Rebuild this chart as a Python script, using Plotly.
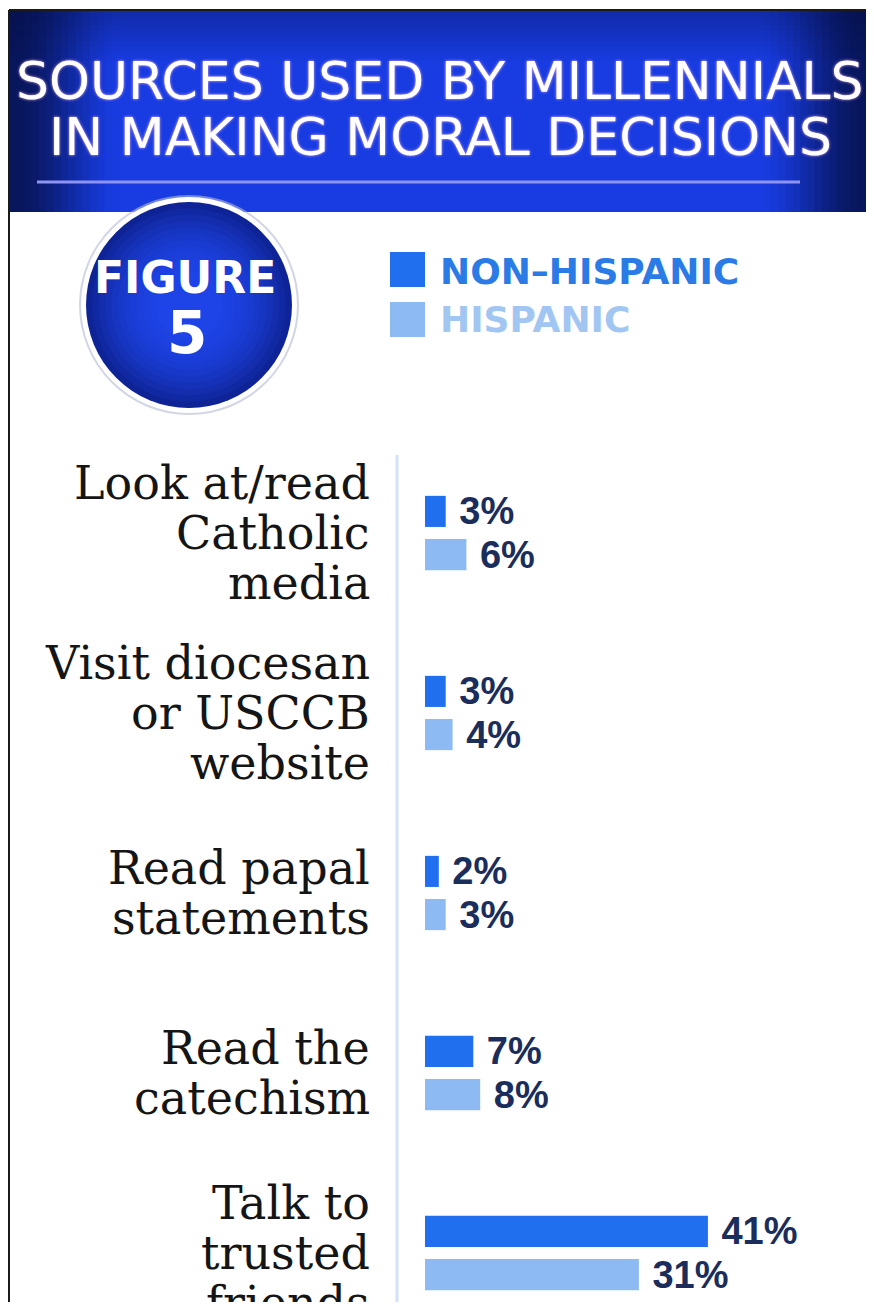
import plotly.graph_objects as go

# ---------------- data ----------------
categories = [
    "Look at/read Catholic media",
    "Visit diocesan or USCCB website",
    "Read papal statements",
    "Read the catechism",
    "Talk to trusted friends",
]
category_lines = [
    ["Look at/read", "Catholic", "media"],
    ["Visit diocesan", "or USCCB", "website"],
    ["Read papal", "statements"],
    ["Read the", "catechism"],
    ["Talk to", "trusted", "friends"],
]
series_names = ["NON\u2013HISPANIC", "HISPANIC"]
non_hispanic = [3, 3, 2, 7, 41]
hispanic = [6, 4, 3, 8, 31]
title_lines = ["SOURCES USED BY MILLENNIALS", "IN MAKING MORAL DECISIONS"]
badge_lines = ["FIGURE", "5"]

# ---------------- geometry / style ----------------
# the page body has an 8px margin; positions below are given in page pixels
OFF = 8
PAGE_W, PAGE_H = 874, 1310
W, H = PAGE_W - OFF, PAGE_H - 2 * OFF
AXIS_PX = 397          # page x of the plot's left edge (axis line)
PLOT_TOP_PX = 455      # page y of the plot's top
ML, MR, MT, MB = AXIS_PX - OFF, 0, PLOT_TOP_PX - OFF, 0
PW, PH = W - ML - MR, H - MT - MB


def fx(px):
    return (px - OFF - ML) / PW


def fy(py):
    return (H - MB - (py - OFF)) / PH


PX_PER_PCT = 6.9
BAR_BASE_PX = 425
x_range = [-(BAR_BASE_PX - AXIS_PX) / PX_PER_PCT,
           (OFF + W - MR - BAR_BASE_PX) / PX_PER_PCT]
STEP = 180.0
FIRST_CENTER = 533
PLOT_BOTTOM_PX = OFF + H - MB
y_top = (FIRST_CENTER - PLOT_TOP_PX) / STEP
y_bot = (PLOT_BOTTOM_PX - (FIRST_CENTER + STEP * (len(categories) - 1))) / STEP
y_range = [len(categories) - 1 + y_bot, -y_top]

C_NON = "#1f6fee"
C_HIS = "#8dbaf3"
C_NON_TXT = "#2b7be6"
C_HIS_TXT = "#a2c6f2"
C_VAL = "#1b2d5a"

fig = go.Figure()
for name, vals, col in [(series_names[0], non_hispanic, C_NON),
                        (series_names[1], hispanic, C_HIS)]:
    fig.add_trace(go.Bar(
        y=categories, x=vals, orientation="h", name=name,
        marker=dict(color=col, line=dict(width=0)),
        texttemplate="\u00a0%{x}%", textposition="outside", constraintext="none",
        textfont=dict(family="Liberation Sans", size=38, color=C_VAL, weight="bold"),
        cliponaxis=False, showlegend=False, hoverinfo="skip",
    ))

shapes = []
annotations = []


def lerp(a, b, t):
    return tuple(int(round(a[i] + (b[i] - a[i]) * t)) for i in range(3))


def rgb(c):
    return "rgb(%d,%d,%d)" % c


# header band with horizontal gradient (strips)
HX0, HX1, HY0, HY1 = 10, 880, 11, 212
bright = (24, 60, 226)
dark = (8, 22, 92)
n_strips = 120
sw = (HX1 - HX0) / n_strips
cxh = 440.0
for i in range(n_strips):
    x0 = HX0 + i * sw
    xm = x0 + sw / 2
    d = min(1.0, abs(xm - cxh) / (866 - cxh))
    if d < 0.74:
        t = 0.0
    else:
        t = min(1.0, (d - 0.74) / 0.26)
        t = t * t * (3 - 2 * t)
    col = lerp(bright, dark, t)
    shapes.append(dict(type="rect", xref="paper", yref="paper",
                       x0=fx(x0), x1=fx(x0 + sw + 0.8), y0=fy(HY1), y1=fy(HY0),
                       fillcolor=rgb(col), line=dict(width=0), layer="below"))
# darker top of the header
for j in range(10):
    y0 = HY0 + j * 5
    a = 0.32 * (1 - j / 10)
    shapes.append(dict(type="rect", xref="paper", yref="paper",
                       x0=fx(HX0), x1=fx(HX1), y0=fy(y0 + 5), y1=fy(y0),
                       fillcolor="rgba(5,12,60,%.3f)" % a, line=dict(width=0), layer="below"))

# rule under the title
shapes.append(dict(type="line", xref="paper", yref="paper",
                   x0=fx(37), x1=fx(800), y0=fy(182), y1=fy(182),
                   line=dict(color="#8f93f2", width=3), layer="below"))

# frame lines
shapes.append(dict(type="line", xref="paper", yref="paper",
                   x0=fx(9), x1=fx(9), y0=fy(10), y1=fy(PAGE_H + 5),
                   line=dict(color="#1a1a1a", width=2), layer="above"))
shapes.append(dict(type="line", xref="paper", yref="paper",
                   x0=fx(9), x1=fx(PAGE_W + 5), y0=fy(10), y1=fy(10),
                   line=dict(color="#1a1a1a", width=2), layer="above"))

# axis line
shapes.append(dict(type="line", xref="paper", yref="paper",
                   x0=0, x1=0, y0=1, y1=fy(PAGE_H + 5),
                   line=dict(color="#d3e2f6", width=3), layer="below"))

# badge circle
CX, CY, R = 189, 305, 108


def circle(r, fill):
    return dict(type="circle", xref="paper", yref="paper",
                x0=fx(CX - r), x1=fx(CX + r), y0=fy(CY + r), y1=fy(CY - r),
                fillcolor=fill, line=dict(width=0), layer="above")


shapes.append(circle(R + 2, "rgba(180,185,210,0.6)"))
shapes.append(circle(R, "#ffffff"))
edge = (14, 36, 150)
center = (30, 68, 232)
nc = 14
for k in range(nc):
    r = 103 - k * (103 - 15) / nc
    t = k / (nc - 1)
    t = 1 - (1 - t) ** 2
    shapes.append(circle(r, rgb(lerp(edge, center, t))))

# legend squares
shapes.append(dict(type="rect", xref="paper", yref="paper",
                   x0=fx(390), x1=fx(425), y0=fy(287), y1=fy(252),
                   fillcolor=C_NON, line=dict(width=0)))
shapes.append(dict(type="rect", xref="paper", yref="paper",
                   x0=fx(390), x1=fx(425), y0=fy(337), y1=fy(302),
                   fillcolor=C_HIS, line=dict(width=0)))

# title
for txt, py in zip(title_lines, [81, 137]):
    annotations.append(dict(
        text=txt, xref="paper", yref="paper", x=fx(440), y=fy(py),
        xanchor="center", yanchor="middle", showarrow=False,
        font=dict(family="DejaVu Sans", size=52, color="#ffffff",
                  shadow="0px 0px 3px rgba(255,190,255,0.9)"),
    ))

# badge text
annotations.append(dict(
    text=badge_lines[0], xref="paper", yref="paper", x=fx(185), y=fy(277),
    xanchor="center", yanchor="middle", showarrow=False,
    font=dict(family="DejaVu Sans", size=44, color="#ffffff", weight="bold"),
))
annotations.append(dict(
    text=badge_lines[1], xref="paper", yref="paper", x=fx(187), y=fy(333),
    xanchor="center", yanchor="middle", showarrow=False,
    font=dict(family="DejaVu Sans", size=58, color="#ffffff", weight="bold"),
))

# legend text
for txt, py, col in zip(series_names, [271, 320], [C_NON_TXT, C_HIS_TXT]):
    annotations.append(dict(
        text=txt, xref="paper", yref="paper", x=fx(438), y=fy(py),
        xanchor="left", yanchor="middle", showarrow=False,
        font=dict(family="DejaVu Sans", size=36, color=col, weight="bold"),
    ))

# category labels (one annotation per line)
LINE_H = 50
for cat, lines in zip(categories, category_lines):
    n = len(lines)
    for i, ln in enumerate(lines):
        annotations.append(dict(
            text=ln, xref="paper", yref="y", x=fx(372), y=cat,
            xanchor="right", yanchor="middle", showarrow=False,
            yshift=((n - 1) / 2 - i) * LINE_H,
            font=dict(family="DejaVu Serif", size=46, color="#151515"),
        ))

fig.update_layout(
    width=W, height=H,
    margin=dict(l=ML, r=MR, t=MT, b=MB, pad=0),
    paper_bgcolor="#ffffff", plot_bgcolor="#ffffff",
    barmode="group", bargap=0.52, bargroupgap=0.28,
    shapes=shapes, annotations=annotations,
    xaxis=dict(range=x_range, showgrid=False, zeroline=False,
               showticklabels=False, showline=False, fixedrange=True),
    yaxis=dict(range=y_range, showgrid=False, zeroline=False,
               showticklabels=False, showline=False, fixedrange=True,
               categoryorder="array", categoryarray=categories),
    showlegend=False,
)

fig.write_html("out.html")
